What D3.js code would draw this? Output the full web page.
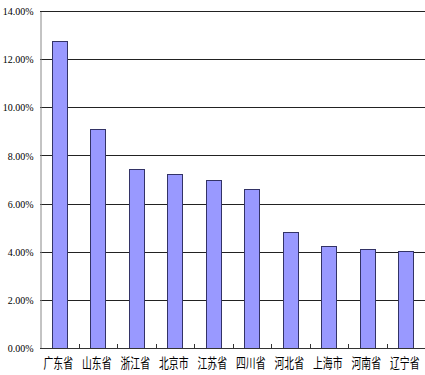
<!DOCTYPE html>
<html>
<head>
<meta charset="utf-8">
<script src="https://cdn.jsdelivr.net/npm/d3@7"></script>
<style>
  html, body { margin: 0; padding: 0; background: #fff; }
  svg { display: block; }
</style>
</head>
<body>
<svg id="svg" width="425" height="375"></svg>
<script>
// data (percent)
var provinces = ["广东省", "山东省", "浙江省", "北京市", "江苏省", "四川省", "河北省", "上海市", "河南省", "辽宁省"];
var shares = [12.75, 9.08, 7.42, 7.23, 6.97, 6.62, 4.83, 4.25, 4.13, 4.02];
var yTicks = [0, 2, 4, 6, 8, 10, 12, 14];

var svg = d3.select('#svg');
var plotLeft = 40, plotRight = 425, plotTop = 11, plotBottom = 348;

var x = d3.scaleBand().domain(provinces).range([plotLeft, plotRight]).paddingInner(0.6).paddingOuter(0.3);
var xStep = d3.scaleBand().domain(provinces).range([plotLeft, plotRight]);
var y = d3.scaleLinear().domain([0, 14]).range([plotBottom, plotTop]);

// grid lines
svg.append('g').selectAll('line')
    .data(yTicks.filter(function (d) { return d > 0; }))
    .enter().append('line')
    .attr('x1', plotLeft).attr('x2', plotRight)
    .attr('y1', function (d) { return Math.round(y(d)) + 0.5; })
    .attr('y2', function (d) { return Math.round(y(d)) + 0.5; })
    .attr('stroke', '#222').attr('stroke-width', 1);

// bars
svg.append('g').selectAll('rect')
    .data(shares)
    .enter().append('rect')
    .attr('x', function (d, i) { return Math.round(x(provinces[i])) + 0.5; })
    .attr('y', function (d) { return Math.round(y(d)) + 0.5; })
    .attr('width', Math.round(x.bandwidth()))
    .attr('height', function (d) { return Math.round(plotBottom - y(d)); })
    .attr('fill', '#9999ff')
    .attr('stroke', '#333366')
    .attr('stroke-width', 1);

// y axis
var yAxis = svg.append('g')
    .attr('transform', 'translate(' + (plotLeft + 0.5) + ',0.5)')
    .call(d3.axisLeft(y).tickValues(yTicks).tickSize(0).tickPadding(7)
        .tickFormat(function (d) { return d.toFixed(2) + '%'; }));
yAxis.select('.domain').attr('stroke', '#888');
yAxis.selectAll('text')
    .attr('fill', '#000')
    .style('font-family', '"Liberation Serif", "DejaVu Serif", serif')
    .style('font-size', '10px');

// x axis with inside ticks at category boundaries
svg.append('line')
    .attr('x1', plotLeft).attr('x2', plotRight)
    .attr('y1', plotBottom + 0.5).attr('y2', plotBottom + 0.5)
    .attr('stroke', '#333').attr('stroke-width', 1);
svg.append('g').selectAll('line')
    .data(provinces.slice(1))
    .enter().append('line')
    .attr('x1', function (d) { return Math.round(xStep(d)) + 0.5; })
    .attr('x2', function (d) { return Math.round(xStep(d)) + 0.5; })
    .attr('y1', plotBottom - 4).attr('y2', plotBottom)
    .attr('stroke', '#333');

svg.append('g').selectAll('text')
    .data(provinces)
    .enter().append('text')
    .attr('transform', function (d) {
        return 'translate(' + (xStep(d) + xStep.bandwidth() / 2 - 1) + ',368) scale(0.82,1.1)';
    })
    .attr('text-anchor', 'middle')
    .style('font-family', '"Noto Sans CJK SC", sans-serif')
    .style('font-size', '12px')
    .text(function (d) { return d; });
</script>
</body>
</html>
